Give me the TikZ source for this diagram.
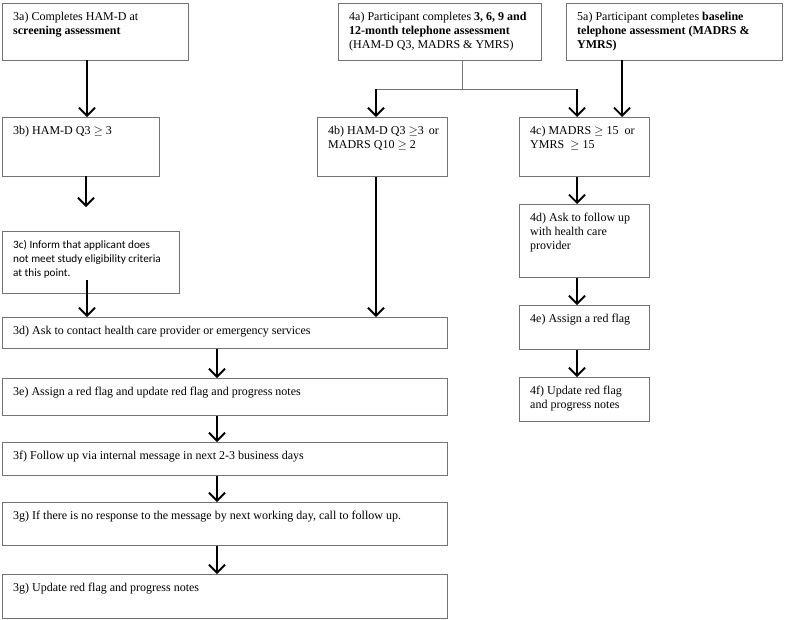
\documentclass[tikz,border=0pt]{standalone}
\usepackage{fontspec}
\setmainfont{Liberation Serif}
\newfontfamily\calib{Carlito}
\usetikzlibrary{arrows.meta}
\tikzset{
  box/.style={draw=black!55, line width=0.8pt, inner sep=0pt, anchor=north west, fill=white},
  lbl/.style={anchor=north west, align=left, inner sep=0pt, xshift=11pt, yshift=-9pt, font=\fontsize{12}{13.8}\selectfont},
  arr/.style={line width=1.9pt, -{Straight Barb[length=8pt, width=16pt, line width=1.9pt]}},
  thin/.style={draw=black!55, line width=0.8pt}
}
\begin{document}
\begin{tikzpicture}[x=1pt, y=-1pt]
\useasboundingbox (0,0) rectangle (785,619);
% left column
\node[box, minimum width=186pt, minimum height=57pt,
  label={[lbl]north west:{3a) Completes HAM-D at\\\textbf{screening assessment}}}] (a3) at (2,3) {};
\node[box, minimum width=157pt, minimum height=59pt,
  label={[lbl]north west:{3b) HAM-D Q3 $\geq$ 3}}] (b3) at (2,117) {};
\node[box, minimum width=177pt, minimum height=62pt,
  label={[lbl, font=\calib\fontsize{11.2}{14}\selectfont]north west:{3c) Inform that applicant does\\not meet study eligibility criteria\\at this point.}}] (c3) at (2,231) {};
\node[box, minimum width=445pt, minimum height=31pt,
  label={[lbl]north west:{3d) Ask to contact health care provider or emergency services}}] (d3) at (2,317) {};
\node[box, minimum width=445pt, minimum height=37pt,
  label={[lbl]north west:{3e) Assign a red flag and update red flag and progress notes}}] (e3) at (2,378) {};
\node[box, minimum width=445pt, minimum height=33pt,
  label={[lbl]north west:{3f) Follow up via internal message in next 2-3 business days}}] (f3) at (2,442) {};
\node[box, minimum width=445pt, minimum height=43pt,
  label={[lbl]north west:{3g) If there is no response to the message by next working day, call to follow up.}}] (g3) at (2,502) {};
\node[box, minimum width=445pt, minimum height=44pt,
  label={[lbl]north west:{3g) Update red flag and progress notes}}] (h3) at (2,574) {};
% middle / right
\node[box, minimum width=203pt, minimum height=57pt,
  label={[lbl]north west:{4a) Participant completes \textbf{3, 6, 9 and}\\\textbf{12-month telephone assessment}\\(HAM-D Q3, MADRS \& YMRS)}}] (a4) at (338,3) {};
\node[box, minimum width=216pt, minimum height=57pt,
  label={[lbl]north west:{5a) Participant completes \textbf{baseline}\\\textbf{telephone assessment (MADRS \&}\\\textbf{YMRS)}}}] (a5) at (566,3) {};
\node[box, minimum width=130pt, minimum height=59pt,
  label={[lbl]north west:{4b) HAM-D Q3 $\geq$3\,\ or\\MADRS Q10 $\geq$\ 2}}] (b4) at (317,117) {};
\node[box, minimum width=130pt, minimum height=59pt,
  label={[lbl]north west:{4c) MADRS $\geq$\ 15\ \ or\\YMRS\ \ $\geq$\ 15}}] (c4) at (519,117) {};
\node[box, minimum width=130pt, minimum height=73pt,
  label={[lbl]north west:{4d) Ask to follow up\\with health care\\provider}}] (d4) at (519,204) {};
\node[box, minimum width=130pt, minimum height=44pt,
  label={[lbl]north west:{4e) Assign a red flag}}] (e4) at (519,305) {};
\node[box, minimum width=130pt, minimum height=44pt,
  label={[lbl]north west:{4f) Update red flag\\and progress notes}}] (f4) at (519,377) {};
% coordinates
\coordinate (split) at (462,89);
\coordinate (sl) at (376,89);
\coordinate (sr) at (577,89);
\coordinate (b3end) at (86,207);
\coordinate (c3start) at (87,280);
\coordinate (a3out) at (87,60);
\coordinate (b3out) at (86,176);
\coordinate (a5out) at (622,60);
\coordinate (mid) at (217,0);
% connectors
\draw[arr] (a3out) -- (a3out |- b3.north);
\draw[arr] (b3out) -- (b3end);
\draw[arr] (c3start) -- (c3start |- d3.north);
\draw[thin] (split |- a4.south) -- (split);
\draw[thin] (sl) -- (sr);
\draw[arr] (sl) -- (sl |- b4.north);
\draw[arr] (sr) -- (sr |- c4.north);
\draw[arr] (a5out) -- (a5out |- c4.north);
\draw[arr] (b4.south -| sl) -- (sl |- d3.north);
\draw[arr] (d3.south -| mid) -- (mid |- e3.north);
\draw[arr] (e3.south -| mid) -- (mid |- f3.north);
\draw[arr] (f3.south -| mid) -- (mid |- g3.north);
\draw[arr] (g3.south -| mid) -- (mid |- h3.north);
\draw[arr] (c4.south -| sr) -- (sr |- d4.north);
\draw[arr] (d4.south -| sr) -- (sr |- e4.north);
\draw[arr] (e4.south -| sr) -- (sr |- f4.north);
\end{tikzpicture}
\end{document}
